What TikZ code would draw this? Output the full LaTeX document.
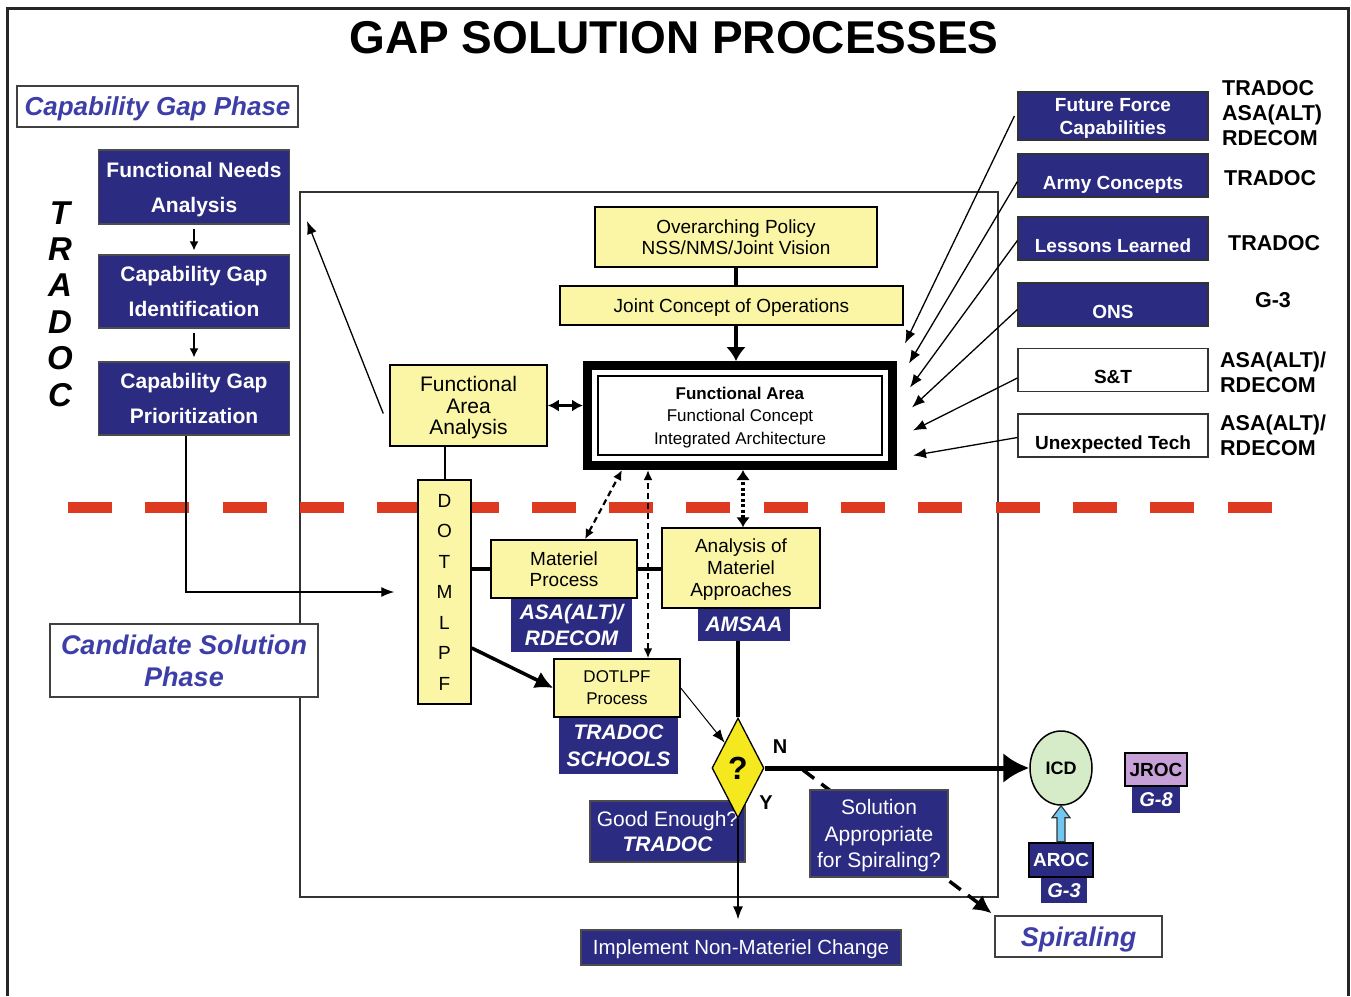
\documentclass[tikz,border=0pt]{standalone}
\usepackage{fontspec}
\setmainfont{Liberation Sans}
\usetikzlibrary{shapes.geometric,arrows.meta}

\definecolor{navy}{RGB}{43,43,130}
\definecolor{paleyellow}{RGB}{250,246,165}
\definecolor{qyellow}{RGB}{246,232,30}
\definecolor{phaseblue}{RGB}{62,62,168}
\definecolor{dashred}{RGB}{222,58,34}
\definecolor{icdgreen}{RGB}{214,236,200}
\definecolor{jrocpurple}{RGB}{200,160,216}
\definecolor{arocblue}{RGB}{112,200,240}

\begin{document}
\begin{tikzpicture}[x=1pt, y=-1pt]
    % Define styles
    \tikzset{
        phase/.style={draw=black!75, line width=1.8pt, fill=white, inner sep=0pt, text depth=0pt, align=center, text=phaseblue, font=\fontsize{26}{32}\selectfont\bfseries\itshape},
        navybox/.style={draw=black!70, line width=1.2pt, fill=navy, text=white, inner sep=0pt, text depth=0pt, align=center, font=\fontsize{21}{35}\selectfont\bfseries},
        navynote/.style={navybox, font=\fontsize{21}{25}\selectfont},
        tagbox/.style={fill=navy, text=white, inner sep=0pt, text depth=0pt, align=center, font=\fontsize{21}{26}\selectfont\bfseries\itshape},
        yellowbox/.style={draw=black, line width=1.5pt, fill=paleyellow, inner sep=0pt, text depth=0pt, align=center, font=\fontsize{19}{21.5}\selectfont},
        fabox/.style={draw=black, line width=9pt, fill=white, inner sep=0pt, text depth=0pt, align=center, minimum width=305pt, minimum height=100pt, font=\fontsize{17}{22.5}\selectfont},
        decision/.style={diamond, draw=black, line width=1.3pt, fill=qyellow, inner sep=0pt, minimum width=52pt, minimum height=100pt, font=\fontsize{32}{32}\selectfont\bfseries},
        srcbox/.style={draw=black!80, line width=1.2pt, fill=navy, text=white, minimum width=190pt, minimum height=43pt, inner sep=0pt, text depth=0pt, align=center, font=\fontsize{19}{23}\selectfont\bfseries},
        srcwhite/.style={srcbox, fill=white, text=black},
        lowtext/.style={text height=27.5pt, text depth=0pt},
        owner/.style={inner sep=0pt, align=left, font=\fontsize{21.5}{25}\selectfont\bfseries},
        yn/.style={inner sep=0pt, font=\fontsize{20}{20}\selectfont\bfseries},
        thinarrow/.style={->, >={Latex[length=13pt, width=10pt]}, line width=1.3pt},
        smallarrow/.style={->, >={Latex[length=9pt, width=9pt]}, line width=1.5pt},
        thickline/.style={line width=4pt},
        thickarrow/.style={->, >={Latex[length=14pt, width=20pt]}, line width=4pt},
        bigarrow/.style={->, >={Latex[length=26pt, width=30pt]}, line width=5pt},
        dblarrow/.style={<->, >={Latex[length=11pt, width=12pt]}, line width=3pt},
        dashlink/.style={<->, >={Latex[length=10pt, width=9pt]}, line width=2.2pt, dash pattern=on 6pt off 4pt},
        dotlink/.style={<->, >={Latex[length=10pt, width=14pt]}, line width=4pt, dash pattern=on 3pt off 2.5pt},
        spiraldash/.style={->, >={Latex[length=18pt, width=18pt]}, line width=3.5pt, dash pattern=on 14pt off 9pt},
        blockarrow/.style={draw=black!80, line width=1.2pt, fill=arocblue}
    }
    \useasboundingbox (0,0) rectangle (1351,996);

    % Frame and title
    \draw[line width=3pt, black!85] (7,996) -- (7,8) -- (1348,8) -- (1348,996);
    \node[font=\fontsize{46}{56}\selectfont\bfseries] (title) at (674,38) {GAP SOLUTION PROCESSES};

    % Inner process frame
    \draw[line width=1.3pt, black!80] (300,192) rectangle (998,897);

    % Phase boundary
    \draw[dashred, line width=11pt, dash pattern=on 44pt off 33.3pt] (68,507) -- (1273,507);

    % Capability gap phase
    \node[phase, minimum width=281pt, minimum height=41pt] (capphase) at (157.5,106.5) {Capability Gap Phase};
    \node[navybox, minimum width=191pt, minimum height=74pt] (needs) at (194,187) {Functional Needs\\Analysis};
    \node[navybox, minimum width=191pt, minimum height=73pt] (gapid) at (194,291.5) {Capability Gap\\Identification};
    \node[navybox, minimum width=191pt, minimum height=73pt] (gapprio) at (194,398.5) {Capability Gap\\Prioritization};
    \node[inner sep=0pt, align=center, font=\fontsize{33}{36.4}\selectfont\bfseries\itshape] (tradoc) at (60,304) {T\\R\\A\\D\\O\\C};

    \draw[smallarrow, shorten <=4pt, shorten >=4pt] (needs) -- (gapid);
    \draw[smallarrow, shorten <=4pt, shorten >=4pt] (gapid) -- (gapprio);

    % Concept boxes
    \node[yellowbox, minimum width=282pt, minimum height=60pt] (policy) at (736,237) {Overarching Policy\\NSS/NMS/Joint Vision};
    \node[yellowbox, minimum width=343pt, minimum height=39pt] (jcop) at (731.5,305.5) {Joint Concept of Operations};
    \node[fabox] (fa) at (740,415.5) {\textbf{Functional Area}\\Functional Concept\\Integrated Architecture};
    \draw[line width=1.5pt] ([shift={(15pt,-15pt)}]fa.north west) rectangle ([shift={(-15pt,15pt)}]fa.south east);
    \node[yellowbox, minimum width=157pt, minimum height=81pt, font=\fontsize{21}{21.5}\selectfont] (faa) at (468.5,405.5) {Functional\\Area\\Analysis};

    % Solution boxes
    \node[yellowbox, minimum width=53pt, minimum height=224pt, font=\fontsize{19}{30.5}\selectfont] (dotmlpf) at (444.5,592) {D\\O\\T\\M\\L\\P\\F};
    \node[tagbox, minimum width=121pt, minimum height=54pt] (matorg) at (571.5,625) {ASA(ALT)/\\RDECOM};
    \node[yellowbox, minimum width=146pt, minimum height=58pt] (matproc) at (564,569) {Materiel\\Process};
    \node[tagbox, minimum width=92pt, minimum height=33pt] (amsaa) at (744,624.5) {AMSAA};
    \node[yellowbox, minimum width=158pt, minimum height=80pt, font=\fontsize{19}{22}\selectfont] (aoma) at (741,568) {Analysis of\\Materiel\\Approaches};
    \node[tagbox, minimum width=119pt, minimum height=57pt, font=\fontsize{21}{27}\selectfont\bfseries\itshape] (schools) at (618.5,745.5) {TRADOC\\SCHOOLS};
    \node[yellowbox, minimum width=126pt, minimum height=58pt, font=\fontsize{17}{22}\selectfont] (dotlpf) at (617,688) {DOTLPF\\Process};

    \node[navynote, minimum width=155pt, minimum height=61pt] (enough) at (667.5,831.5) {Good Enough?\\{\bfseries\itshape TRADOC}};
    \node[decision] (q) at (738,768) {?};
    \node[yn] (nlabel) at (780,747) {N};
    \node[yn] (ylabel) at (766,803) {Y};
    \node[navynote, minimum width=320pt, minimum height=35pt, font=\fontsize{20.5}{25}\selectfont] (implement) at (741,947.5) {Implement Non-Materiel Change};

    % Spiraling and ICD
    \node[phase, minimum width=167pt, minimum height=41pt, font=\fontsize{27}{32}\selectfont\bfseries\itshape] (spiral) at (1078.5,936.5) {Spiraling};
    \coordinate (spiralfork) at (803,770);
    \draw[spiraldash, shorten >=3pt] (spiralfork) -- (spiral.north west);
    \node[navynote, minimum width=138pt, minimum height=87pt, font=\fontsize{21}{26.5}\selectfont] (solution) at (879,833.5) {Solution\\Appropriate\\for Spiraling?};

    \node[ellipse, draw=black, line width=1.5pt, fill=icdgreen, minimum width=62pt, minimum height=74pt, inner sep=0pt, font=\fontsize{18}{18}\selectfont\bfseries] (icd) at (1061,768) {ICD};
    \node[tagbox, minimum width=48pt, minimum height=26pt, font=\fontsize{20}{20}\selectfont\bfseries\itshape] (g8) at (1156,800) {G-8};
    \node[draw=black, line width=2.5pt, fill=jrocpurple, minimum width=62pt, minimum height=33pt, inner sep=0pt, font=\fontsize{19}{19}\selectfont\bfseries] (jroc) at (1156,769.5) {JROC};
    \node[tagbox, minimum width=46pt, minimum height=25pt, font=\fontsize{20}{20}\selectfont\bfseries\itshape] (g3) at (1064,890.5) {G-3};
    \node[draw=black, line width=2.5pt, fill=navy, text=white, minimum width=64pt, minimum height=34pt, inner sep=0pt, font=\fontsize{19}{19}\selectfont\bfseries] (aroc) at (1061,860) {AROC};

    % Candidate solution phase
    \node[phase, minimum width=268pt, minimum height=73pt, font=\fontsize{27}{32}\selectfont\bfseries\itshape] (candidate) at (184,660.5) {Candidate Solution\\Phase};

    % Input sources
    \node[srcbox, minimum height=48pt] (future) at (1113,116) {Future Force\\Capabilities};
    \node[srcbox, lowtext] (army) at (1113,175.5) {Army Concepts};
    \node[srcbox, lowtext] (lessons) at (1113,238.5) {Lessons Learned};
    \node[srcbox, lowtext] (ons) at (1113,304.5) {ONS};
    \node[srcwhite, lowtext] (st) at (1113,370) {S\&T};
    \node[srcwhite, lowtext] (unexp) at (1113,435.5) {Unexpected Tech};

    \node[owner, anchor=west] (futureown) at (1222,113) {TRADOC\\ASA(ALT)\\RDECOM};
    \node[owner, anchor=west] (armyown) at (1224,178) {TRADOC};
    \node[owner, anchor=west] (lessonsown) at (1228,243) {TRADOC};
    \node[owner] (onsown) at (1273,300) {G-3};
    \node[owner, anchor=west] (stown) at (1220,372.5) {ASA(ALT)/\\RDECOM};
    \node[owner, anchor=west] (unexpown) at (1220,435.5) {ASA(ALT)/\\RDECOM};

    % Source arrows
    \draw[thinarrow] ([xshift=-3pt]future.west) -- ([xshift=8pt, yshift=72pt]fa.east);
    \draw[thinarrow] ([yshift=-6pt]army.west) -- ([xshift=12pt, yshift=52pt]fa.east);
    \draw[thinarrow] ([yshift=-2pt]lessons.west) -- ([xshift=13pt, yshift=28pt]fa.east);
    \draw[thinarrow] ([yshift=-5pt]ons.west) -- ([xshift=15pt, yshift=8pt]fa.east);
    \draw[thinarrow] ([yshift=-8pt]st.west) -- ([xshift=16pt, yshift=-15pt]fa.east);
    \draw[thinarrow] ([yshift=-2pt]unexp.west) -- ([xshift=16pt, yshift=-40pt]fa.east);

    % Flow connectors
    \draw[thickline] (policy.south) -- (policy.south |- jcop.north);
    \draw[thickarrow] (jcop.south -| policy.south) -- (fa.north -| policy.south);
    \draw[dblarrow] (faa.east) -- (faa.east -| fa.west);
    \coordinate (framecorner) at (307,221);
    \draw[thinarrow] ([xshift=-6pt, yshift=-8pt]faa.west) -- (framecorner);
    \draw[line width=2pt] (dotmlpf.north) -- (dotmlpf.north |- faa.south);
    \draw[thinarrow] ([xshift=-8pt]gapprio.south) |- ([xshift=-23pt]dotmlpf.west);

    \draw[thickline] (matproc.west -| dotmlpf.east) -- (matproc.west);
    \draw[thickline] (matproc.east) -- (matproc.east -| aoma.west);
    \draw[thickarrow, >={Latex[length=18pt, width=18pt]}, line width=3.5pt] ([yshift=-56pt]dotmlpf.east) -- (dotlpf.west);

    \draw[dashlink] ([xshift=21pt]matproc.north) -- ([xshift=-118pt]fa.south);
    \draw[dashlink] ([xshift=31pt]dotlpf.north) -- ([xshift=31pt]dotlpf.north |- fa.south);
    \draw[dotlink] ([xshift=2pt]aoma.north) -- ([xshift=2pt]aoma.north |- fa.south);

    \draw[thickline] (q.north) -- (q.north |- amsaa.south);
    \draw[thinarrow, line width=1pt] (dotlpf.east) -- (q.north west);
    \draw[bigarrow] (q.east) -- (icd.west);
    \draw[thinarrow, shorten >=10pt] (q.south) -- (q.south |- implement.north);

    \draw[blockarrow] ([xshift=-4pt]aroc.north) -- ([xshift=-4pt, yshift=-12pt]icd.south) -- ([xshift=-9pt, yshift=-12pt]icd.south) -- (icd.south) -- ([xshift=9pt, yshift=-12pt]icd.south) -- ([xshift=4pt, yshift=-12pt]icd.south) -- ([xshift=4pt]aroc.north) -- cycle;

\end{tikzpicture}
\end{document}
